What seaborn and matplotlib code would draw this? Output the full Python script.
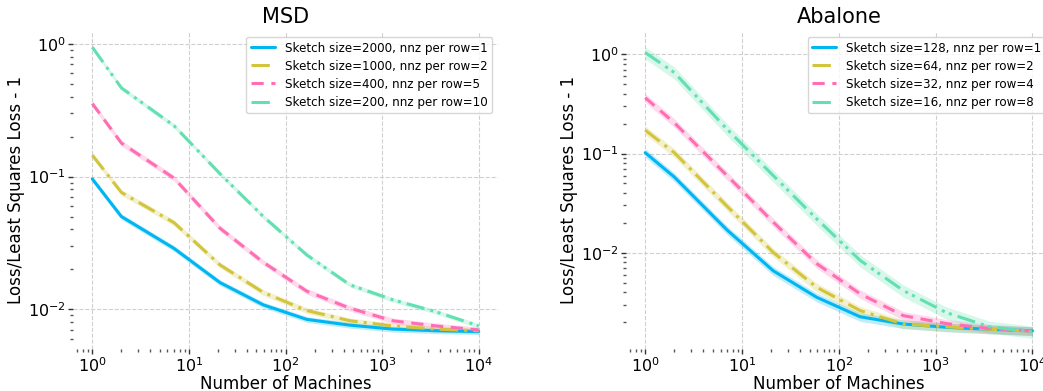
import numpy as np
import pandas as pd
import matplotlib
matplotlib.use("Agg")
import matplotlib.pyplot as plt
import seaborn as sns

machines = [1, 2, 7, 21, 59, 166, 464, 1291, 3593, 10000]

msd_labels = ["Sketch size=2000, nnz per row=1", "Sketch size=1000, nnz per row=2",
              "Sketch size=400, nnz per row=5", "Sketch size=200, nnz per row=10"]
msd_s1 = [0.096, 0.050, 0.0288, 0.0159, 0.0108, 0.0084, 0.0076, 0.0071, 0.0069, 0.0068]
msd_s2 = [0.145, 0.076, 0.045, 0.0216, 0.0134, 0.0098, 0.0082, 0.0075, 0.0071, 0.0069]
msd_s3 = [0.355, 0.179, 0.0975, 0.0408, 0.0226, 0.0137, 0.0102, 0.0082, 0.0075, 0.0070]
msd_s4 = [0.944, 0.466, 0.242, 0.105, 0.050, 0.0257, 0.0153, 0.0118, 0.0096, 0.0075]
msd_spread = [0.05, 0.05, 0.05, 0.04]

aba_labels = ["Sketch size=128, nnz per row=1", "Sketch size=64, nnz per row=2",
              "Sketch size=32, nnz per row=4", "Sketch size=16, nnz per row=8"]
aba_s1 = [0.102, 0.058, 0.017, 0.0066, 0.00357, 0.00227, 0.00192, 0.00178, 0.0017, 0.00164]
aba_s2 = [0.172, 0.102, 0.0295, 0.0101, 0.0045, 0.00262, 0.00192, 0.0018, 0.0017, 0.00163]
aba_s3 = [0.365, 0.204, 0.060, 0.0204, 0.0078, 0.00386, 0.00233, 0.00194, 0.00173, 0.00163]
aba_s4 = [1.04, 0.653, 0.176, 0.060, 0.022, 0.0084, 0.00417, 0.0025, 0.0018, 0.0016]
aba_spread = [0.10, 0.10, 0.10, 0.14]

colors = ["#00b6f2", "#d2c53c", "#ff6eb4", "#62e0b2"]
styles = ["-", (0, (6, 2, 1, 2)), (0, (4, 2.5)), (0, (6, 2, 1, 1.5, 1, 2))]

sns.set_style("white")
plt.rcParams["font.family"] = ["DejaVu Sans"]
plt.rcParams["text.color"] = "black"
plt.rcParams["axes.labelcolor"] = "black"
plt.rcParams["xtick.color"] = "black"
plt.rcParams["ytick.color"] = "black"

fig = plt.figure(figsize=(10.43, 3.91), dpi=100)
ax1 = fig.add_axes([0.070, 0.107, 0.4075, 0.814])
ax2 = fig.add_axes([0.600, 0.107, 0.4085, 0.814])


def draw(ax, series, labels, spreads, title, ylim):
    for vals, lab, col, ls, sp in zip(series, labels, colors, styles, spreads):
        df = pd.DataFrame({"x": machines, "y": vals})
        sns.lineplot(data=df, x="x", y="y", ax=ax, color=col, linestyle=ls,
                     linewidth=2.2, label=lab)
        v = np.array(vals)
        ax.fill_between(machines, v * (1 - sp), v * (1 + sp), color=col,
                        alpha=0.25, linewidth=0)
    ax.set_xscale("log")
    ax.set_yscale("log")
    ax.set_ylim(*ylim)
    ax.set_title(title, fontsize=15, color="black")
    ax.set_xlabel("Number of Machines", fontsize=12, labelpad=0, color="black")
    ax.set_ylabel("Loss/Least Squares Loss - 1", fontsize=12, labelpad=2, color="black")
    ax.grid(True, which="major", linestyle="--", color="#d0d0d0", linewidth=0.8)
    for s in ax.spines.values():
        s.set_visible(False)
    ax.tick_params(which="major", direction="out", length=3.5, width=1, pad=1.5,
                   color="#333333", labelcolor="black", labelsize=11.5, left=True, bottom=True)
    ax.tick_params(which="minor", direction="out", length=2, width=1,
                   color="#555555", left=True, bottom=True)
    ax.xaxis.set_major_locator(matplotlib.ticker.LogLocator(base=10, numticks=10))
    ax.xaxis.set_minor_locator(matplotlib.ticker.LogLocator(base=10, subs=np.arange(2, 10), numticks=20))
    ax.yaxis.set_minor_locator(matplotlib.ticker.LogLocator(base=10, subs=np.arange(2, 10), numticks=20))
    ax.xaxis.set_minor_formatter(matplotlib.ticker.NullFormatter())
    ax.yaxis.set_minor_formatter(matplotlib.ticker.NullFormatter())
    leg = ax.legend(loc="upper right", fontsize=8.6, frameon=True, handlelength=2.0,
                    borderpad=0.4, labelspacing=0.42, fancybox=True)
    leg.get_frame().set_edgecolor("#cccccc")
    for t in leg.get_texts():
        t.set_color("black")


draw(ax1, [msd_s1, msd_s2, msd_s3, msd_s4], msd_labels, msd_spread, "MSD",
     (10 ** -2.30, 10 ** 0.098))
draw(ax2, [aba_s1, aba_s2, aba_s3, aba_s4], aba_labels, aba_spread, "Abalone",
     (10 ** -2.97, 10 ** 0.235))

fig.savefig("out.png", dpi=100)
